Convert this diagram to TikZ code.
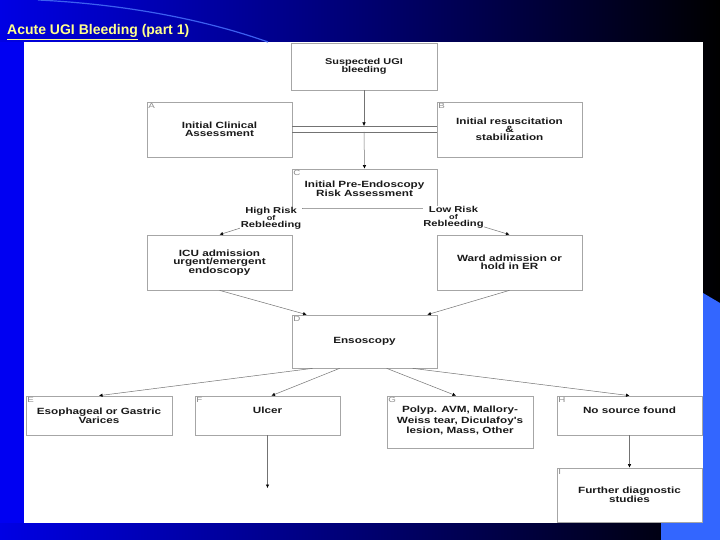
\documentclass[tikz,border=0pt]{standalone}
\usepackage{fontspec}
\setmainfont{Liberation Sans}
\newfontfamily\boxfont{Liberation Sans}[FakeStretch=1.3]
\usetikzlibrary{arrows.meta,shadows}
\definecolor{bgblue}{RGB}{0,0,228}
\definecolor{bgmid}{RGB}{0,0,200}
\definecolor{stripblue}{RGB}{0,0,242}
\definecolor{lightstrip}{RGB}{51,102,255}
\definecolor{titleyellow}{RGB}{255,255,140}
\definecolor{swooshblue}{RGB}{60,95,240}
\tikzset{
  box/.style={draw=black!35, line width=0.7pt, fill=white, align=center,
    font=\boxfont\bfseries\fontsize{9}{8}\selectfont, text=black!90, inner sep=1pt,
    drop shadow={shadow xshift=0.8pt, shadow yshift=-0.8pt, fill=black!55, opacity=1}},
  conn/.style={draw=black!55, line width=0.5pt, -{Latex[length=3.5pt,width=3.5pt,black]}},
  plain/.style={draw=black!55, line width=0.5pt},
  tag/.style={anchor=north west, inner sep=1.5pt, font=\boxfont\fontsize{7.5}{7}\selectfont, text=black!45},
  risk/.style={fill=white, inner sep=0.5pt, align=center, text=black!90,
    font=\boxfont\bfseries\fontsize{8.6}{7}\selectfont},
}
\newcommand\ofsmall{{\fontsize{7}{7}\selectfont of}}
\begin{document}
\begin{tikzpicture}[x=1pt,y=-1pt]
\useasboundingbox (0,0) rectangle (720,540);
% background
\shade[left color=bgblue, middle color=bgmid, right color=black] (0,0) rectangle (720,540);
\fill[stripblue] (0,42) rectangle (24,523);
\fill[lightstrip] (703,293) -- (720,303) -- (720,540) -- (661,540) -- (661,523) -- (703,523) -- cycle;
\fill[white] (24,42) rectangle (703,523);
\draw[swooshblue, line width=1.2pt] (38,0) .. controls (120,4) and (200,18) .. (268,42);
\node[anchor=base west, font=\bfseries\fontsize{14}{15}\selectfont, text=titleyellow, inner sep=0] (title) at (7,35) {\underline{Acute UGI Bleeding} (part 1)};

% boxes
\node[box, minimum width=146pt, minimum height=47pt, font=\boxfont\bfseries\fontsize{8.4}{8}\selectfont] (S) at (364,66.5) {Suspected UGI\\bleeding};
\node[box, minimum width=145pt, minimum height=55pt, label={[tag]north west:A}] (A) at (219.5,129.5) {Initial Clinical\\Assessment};
\node[box, minimum width=145pt, minimum height=55pt, label={[tag]north west:B}] (B) at (509.5,129.5) {Initial resuscitation\\\&\\stabilization};
\node[box, minimum width=145pt, minimum height=39pt, label={[tag]north west:C}] (C) at (364.5,188.5) {Initial Pre-Endoscopy\\Risk Assessment};
\node[box, minimum width=145pt, minimum height=55pt] (ICU) at (219.5,262.5) {ICU admission\\urgent/emergent\\endoscopy};
\node[box, minimum width=145pt, minimum height=55pt] (W) at (509.5,262.5) {Ward admission or\\hold in ER};
\node[box, minimum width=145pt, minimum height=53pt, label={[tag]north west:D}] (D) at (364.5,341.5) {Ensoscopy};
\node[box, minimum width=146pt, minimum height=39pt, label={[tag]north west:E}] (E) at (99,415.5) {Esophageal or Gastric\\Varices};
\node[box, minimum width=145pt, minimum height=39pt, text depth=11pt, label={[tag]north west:F}] (F) at (267.5,415.5) {Ulcer};
\node[box, minimum width=146pt, minimum height=52pt, label={[tag]north west:G}] (G) at (460,422) {\raisebox{4pt}{\shortstack{Polyp. AVM, Mallory-\\[-1pt]Weiss tear, Diculafoy's\\[-1pt]lesion, Mass, Other}}};
\node[box, minimum width=145pt, minimum height=39pt, text depth=11pt, label={[tag]north west:H}] (H) at (629.5,415.5) {No source found};
\node[box, minimum width=145pt, minimum height=54pt, label={[tag]north west:I}] (I) at (629.5,495) {Further diagnostic\\studies};

% connectors
\coordinate (jt) at (364,126);
\coordinate (jb) at (364,132);
\coordinate (fend) at (267.5,488);
\draw[conn] (S.south) -- (jt);
\draw[plain] (A.east |- jt) -- (B.west |- jt);
\draw[plain] (A.east |- jb) -- (B.west |- jb);
\draw[conn] (jb) -- (C.north);
\draw[conn] ([xshift=11pt]C.south west) -- node[risk, pos=0.38] {High Risk\\\ofsmall\\Rebleeding} (ICU.north);
\draw[conn] ([xshift=-14pt]C.south east) -- node[risk, pos=0.35] {Low Risk\\\ofsmall\\Rebleeding} (W.north);
\draw[conn] (ICU.south) -- ([xshift=15pt]D.north west);
\draw[conn] (W.south) -- ([xshift=-10pt]D.north east);
\draw[conn] ([xshift=21pt]D.south west) -- (E.north);
\draw[conn] ([xshift=48pt]D.south west) -- ([xshift=4pt]F.north);
\draw[conn] ([xshift=95pt]D.south west) -- ([xshift=-4pt]G.north);
\draw[conn] ([xshift=121pt]D.south west) -- (H.north);
\draw[conn] (F.south) -- (fend);
\draw[conn] (H.south) -- (I.north);
\end{tikzpicture}
\end{document}
